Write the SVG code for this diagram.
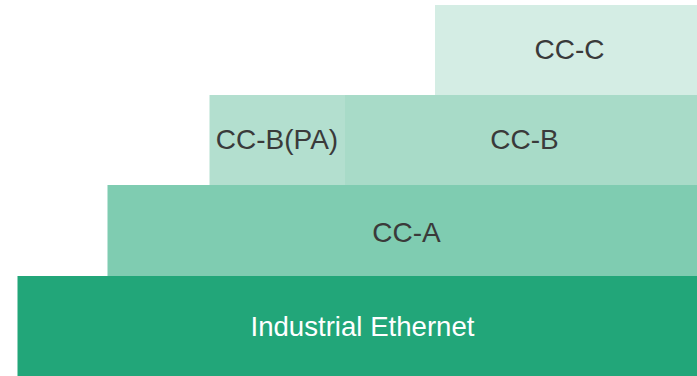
<svg xmlns="http://www.w3.org/2000/svg" width="697" height="376" viewBox="0 0 697 376">
<style>
text{font-family:"Liberation Sans",Arial,sans-serif;font-size:28px;fill:#3a3a3a;text-anchor:middle}
text.w{fill:#ffffff;font-size:27.6px}
</style>
<rect width="697" height="376" fill="#ffffff"/>
<g id="cc-c"><rect x="435" y="5" width="262" height="90" fill="#d4ede4"/><text x="569.5" y="59.3">CC-C</text></g>
<g id="cc-b-pa"><rect x="209.5" y="95" width="135.5" height="90" fill="#b3dfcf"/><text x="277" y="149.3">CC-B(PA)</text></g>
<g id="cc-b"><rect x="345" y="95" width="352" height="90" fill="#a8dbc8"/><text x="524.5" y="149.3">CC-B</text></g>
<g id="cc-a"><rect x="107.5" y="185" width="589.5" height="91" fill="#7fccb1"/><text x="406.5" y="242.3">CC-A</text></g>
<g id="ethernet"><rect x="17.5" y="276" width="679.5" height="100" fill="#22a679"/><text class="w" x="362.5" y="336">Industrial Ethernet</text></g>
<g id="connectors"/>
</svg>
